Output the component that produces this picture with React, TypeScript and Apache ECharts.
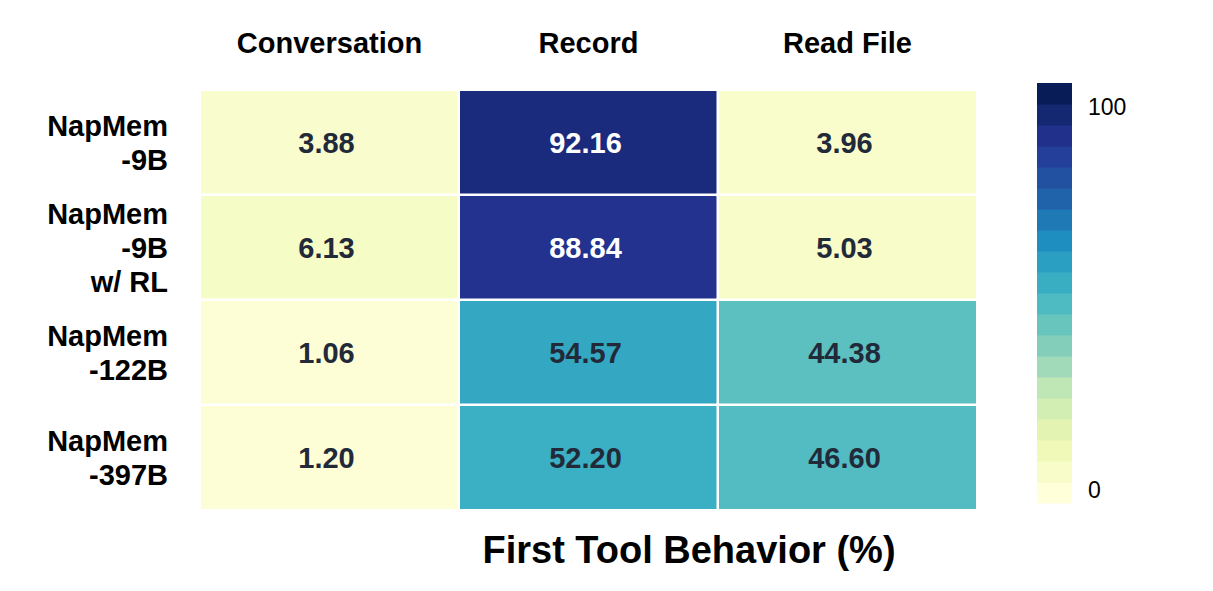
import React, { useEffect, useRef } from "react";
import * as echarts from "echarts";

const COLUMNS = ["Conversation", "Record", "Read File"];
const ROWS = ["NapMem\n-9B", "NapMem\n-9B\nw/ RL", "NapMem\n-122B", "NapMem\n-397B"];
const CONVERSATION = [3.88, 6.13, 1.06, 1.2];
const RECORD = [92.16, 88.84, 54.57, 52.2];
const READ_FILE = [3.96, 5.03, 44.38, 46.6];
const TITLE = "First Tool Behavior (%)";
const COLORBAR_TICKS = [0, 100];
const COLORBAR_MIN = -3.4;
const COLORBAR_MAX = 106.3;
const COLORBAR_STEPS = 20;

const YLGNBU = ["#ffffd9", "#edf8b1", "#c7e9b4", "#7fcdbb", "#41b6c4", "#1d91c0", "#225ea8", "#253494", "#081d58"];

function hexToRgb(h: string) {
  const n = parseInt(h.slice(1), 16);
  return [(n >> 16) & 255, (n >> 8) & 255, n & 255];
}
function cmap(t: number) {
  const x = Math.max(0, Math.min(1, t)) * (YLGNBU.length - 1);
  const i = Math.min(YLGNBU.length - 2, Math.floor(x));
  const f = x - i;
  const a = hexToRgb(YLGNBU[i]);
  const b = hexToRgb(YLGNBU[i + 1]);
  const c = a.map((v, k) => Math.round(v + (b[k] - v) * f));
  return `rgb(${c[0]},${c[1]},${c[2]})`;
}

const FONT = "'Liberation Sans', Arial, sans-serif";

export default function App() {
  const ref = useRef<HTMLDivElement>(null);
  useEffect(() => {
    document.body.style.margin = "0";
    const chart = echarts.init(ref.current!, null, { renderer: "svg" });
    const cols = [CONVERSATION, RECORD, READ_FILE];
    const data: any[] = [];
    cols.forEach((arr, xi) =>
      arr.forEach((v, yi) => {
        data.push({
          value: [xi, yi, v],
          label: { color: v > 70 ? "#ffffff" : "#222a3a" },
        });
      })
    );
    const step = (COLORBAR_MAX - COLORBAR_MIN) / COLORBAR_STEPS;
    const cbData: number[][] = [];
    for (let i = 0; i < COLORBAR_STEPS; i++) {
      cbData.push([COLORBAR_MIN + i * step, COLORBAR_MIN + (i + 1) * step, i]);
    }
    chart.setOption({
      animation: false,
      textStyle: { fontFamily: FONT },
      title: {
        text: TITLE,
        left: 684,
        top: 526,
        textAlign: "center",
        textStyle: { fontSize: 38, fontWeight: "bold", color: "#000", fontFamily: FONT },
      },
      grid: [
        { left: 200, top: 90, width: 777, height: 420 },
        { left: 1037, top: 83, width: 35, height: 420 },
      ],
      xAxis: [
        {
          type: "category",
          gridIndex: 0,
          data: COLUMNS,
          position: "top",
          axisLine: { show: false },
          axisTick: { show: false },
          splitLine: { show: false },
          axisLabel: { fontSize: 29, fontWeight: "bold", color: "#000", margin: 33, fontFamily: FONT },
        },
        {
          type: "value",
          gridIndex: 1,
          min: 0,
          max: 1,
          show: false,
        },
      ],
      yAxis: [
        {
          type: "category",
          gridIndex: 0,
          data: ROWS,
          inverse: true,
          axisLine: { show: false },
          axisTick: { show: false },
          splitLine: { show: false },
          axisLabel: {
            fontSize: 29,
            fontWeight: "bold",
            color: "#000",
            margin: 32,
            lineHeight: 34,
            align: "right",
            fontFamily: FONT,
          },
        },
        {
          type: "value",
          gridIndex: 1,
          min: COLORBAR_MIN,
          max: COLORBAR_MAX,
          position: "right",
          axisLine: { show: false },
          axisTick: { show: false },
          splitLine: { show: false },
          axisLabel: {
            customValues: COLORBAR_TICKS,
            fontSize: 23,
            color: "#000",
            margin: 16,
            fontFamily: FONT,
          },
        },
      ],
      visualMap: {
        type: "continuous",
        show: false,
        seriesIndex: 0,
        min: 0,
        max: 100,
        dimension: 2,
        inRange: { color: YLGNBU },
      },
      series: [
        {
          type: "heatmap",
          xAxisIndex: 0,
          yAxisIndex: 0,
          data,
          itemStyle: { borderColor: "#ffffff", borderWidth: 2.5 },
          label: {
            show: true,
            fontSize: 29,
            fontWeight: "bold",
            fontFamily: FONT,
            offset: [-3, 0],
            formatter: (p: any) => p.value[2].toFixed(2),
          },
          emphasis: { disabled: true },
        },
        {
          type: "custom",
          xAxisIndex: 1,
          yAxisIndex: 1,
          data: cbData,
          silent: true,
          renderItem: (params: any, api: any) => {
            const lo = api.value(0);
            const hi = api.value(1);
            const idx = api.value(2);
            const p1 = api.coord([0, hi]);
            const p2 = api.coord([1, lo]);
            return {
              type: "rect",
              shape: { x: p1[0], y: p1[1], width: p2[0] - p1[0], height: p2[1] - p1[1] + 0.5 },
              style: { fill: cmap(idx / (COLORBAR_STEPS - 1)) },
            };
          },
        },
      ],
    });
    return () => chart.dispose();
  }, []);
  return <div ref={ref} style={{ width: 1213, height: 591 }} />;
}
